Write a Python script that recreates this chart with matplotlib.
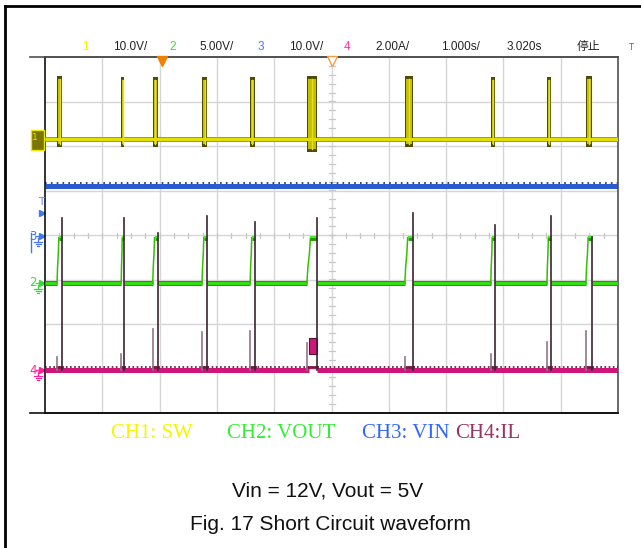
import numpy as np
import matplotlib.pyplot as plt
from matplotlib.patches import Rectangle
from matplotlib.lines import Line2D

# time axis: 1.000 s/div, 10 divisions ; vertical: 8 divisions
pulse_start = [0.21, 1.33, 1.88, 2.74, 3.58, 4.57, 6.28, 7.78, 8.76, 9.44]
pulse_end = [0.30, 1.38, 1.97, 2.83, 3.66, 4.75, 6.42, 7.85, 8.83, 9.55]

sw_base = 2.16          # CH1 baseline (div)
sw_high = [3.57, 3.55, 3.55, 3.55, 3.55, 3.57, 3.57, 3.55, 3.55, 3.57]
sw_low = [1.98, 1.98, 1.98, 1.98, 1.98, 1.87, 1.98, 1.98, 1.98, 1.98]

vin_level = 1.10        # CH3
vout_base = -1.08       # CH2
vout_high = -0.06

il_base = -3.03         # CH4
il_peak = [0.38, 0.38, 0.04, 0.43, 0.29, 0.38, 0.49, 0.22, 0.43, -0.05]
il_pre = [-2.74, -2.67, -2.11, -2.18, -2.16, -2.43, -2.74, -2.67, -2.40, -2.16]
il_block = (4.61, 4.75, -2.67, -2.31)

header = ['1', '10.0V/', '2', '5.00V/', '3', '10.0V/', '4', '2.00A/', '1.000s/', '3.020s', '停止']
header_x = [85, 130, 173, 217, 261, 306, 347, 393, 460, 524, 588]
header_col = ['#f2f200', '#222222', '#33dd33', '#222222', '#4477ff', '#222222',
              '#ff3399', '#222222', '#222222', '#222222', '#222222']

legend = ['CH1: SW', 'CH2: VOUT', 'CH3: VIN', 'CH4:IL']
legend_x = [152, 281, 406, 488]
legend_col = ['#f5f500', '#33ee33', '#3366ff', '#993366']

W, H = 641, 548
fig = plt.figure(figsize=(W / 100, H / 100), dpi=100)
ax = fig.add_axes([45 / W, 1 - 413 / H, (618 - 45) / W, (413 - 57) / H])
ax.set_xlim(0, 10)
ax.set_ylim(-4, 4)
ax.set_xticks([])
ax.set_yticks([])
PX = 10 / 573.0
PY = 8 / 356.0

for s in ['top', 'right']:
    ax.spines[s].set_color('#505050')
for s in ['left', 'bottom']:
    ax.spines[s].set_color('#111111')
for s in ax.spines.values():
    s.set_linewidth(1.2)

# extended top / bottom frame lines
for yy, c in [(1, '#505050'), (0, '#111111')]:
    ax.plot([-15 * PX / 10, 1], [yy, yy], transform=ax.transAxes, color=c, lw=1.2, clip_on=False)

# graticule
for gx in range(1, 10):
    ax.axvline(gx, color='#d6d6d6', lw=1, zorder=0)
for gy in range(-3, 4):
    ax.axhline(gy, color='#d6d6d6', lw=1, zorder=0)
for tx in np.arange(0.25, 10, 0.25):
    ax.plot([tx, tx], [-2.5 * PY, 2.5 * PY], color='#c8c8c8', lw=0.9, zorder=0)
for ty in np.arange(-3.8, 4, 0.2):
    ax.plot([5 - 3 * PX, 5 + 3 * PX], [ty, ty], color='#c8c8c8', lw=0.9, zorder=0)

lw5 = 5 * 0.72

# CH3 VIN
ax.plot([0, 10], [vin_level, vin_level], color='#2a5bd0', lw=lw5, solid_capstyle='butt', zorder=2)
ax.plot([0, 10], [vin_level + 3 * PY] * 2, color='#1a2550', lw=1.2, ls=(0, (1, 2.5)), zorder=2)

# CH1 SW
ax.plot([0, 10], [sw_base, sw_base], color='#a6a200', lw=lw5, solid_capstyle='butt', zorder=3)
ax.plot([0, 10], [sw_base, sw_base], color='#e2de00', lw=2.2, solid_capstyle='butt', zorder=3)
for s, e, hi, lo in zip(pulse_start, pulse_end, sw_high, sw_low):
    ax.add_patch(Rectangle((s, lo), e - s, hi - lo, facecolor='#4f4b00', edgecolor='none', zorder=4))
    ax.add_patch(Rectangle((s + 1.2 * PX, lo + 3 * PY), e - s - 2.4 * PX, hi - lo - 6 * PY,
                           facecolor='#c4c000', edgecolor='none', zorder=4))
    ax.plot([(s + e) / 2] * 2, [lo + 3 * PY, hi - 3 * PY], color='#e4e220', lw=1, zorder=4)
    ax.plot([s, e], [sw_base, sw_base], color='#e2de00', lw=2.2, zorder=4)

# CH2 VOUT
edges = [0] + [v for p in zip(pulse_start, pulse_end) for v in p] + [10]
for a, b in zip(edges[0::2], edges[1::2]):
    ax.plot([a, b], [vout_base, vout_base], color='#1a9e00', lw=lw5, solid_capstyle='butt', zorder=3)
    ax.plot([a, b], [vout_base + 0.5 * PY] * 2, color='#33dd11', lw=2.2, solid_capstyle='butt', zorder=3)
for s, e in zip(pulse_start, pulse_end):
    m = s + 0.35 * (e - s)
    ax.plot([s, s + 0.1 * (e - s), m - 0.1 * (e - s), m], [vout_base, vout_base + 0.35,
            vout_high - 0.35, vout_high], color='#33c000', lw=1.1, zorder=3)
    ax.plot([m, e], [vout_high, vout_high], color='#1a9e00', lw=3.5, solid_capstyle='butt', zorder=3)
    ax.plot([m, e], [vout_high + 0.5 * PY] * 2, color='#44ee22', lw=1.5, solid_capstyle='butt', zorder=3)

# CH4 IL
b0, b1, blo, bhi = il_block
ax.plot([0, b0], [il_base, il_base], color='#d0157a', lw=lw5, solid_capstyle='butt', zorder=3)
ax.plot([b1, 10], [il_base, il_base], color='#d0157a', lw=lw5, solid_capstyle='butt', zorder=3)
ax.plot([0, b0], [il_base + 2.5 * PY] * 2, color='#4a1830', lw=1.2, ls=(0, (1, 1.5)), zorder=3)
ax.plot([b1, 10], [il_base + 2.5 * PY] * 2, color='#4a1830', lw=1.2, ls=(0, (1, 1.5)), zorder=3)
ax.add_patch(Rectangle((b0, blo), b1 - b0, bhi - blo, facecolor='#d0157a', edgecolor='#5a0d35', lw=0.8, zorder=3))
for s, e, pk, pre in zip(pulse_start, pulse_end, il_peak, il_pre):
    ax.plot([s, e], [il_base + 3 * PY] * 2, color='#7a1848', lw=2, zorder=3)
    ax.plot([s, s], [il_base, pre], color='#8f7585', lw=1.2, zorder=5)
    ax.plot([e, e], [il_base, pk], color='#3b2430', lw=1.2, zorder=5)

# trigger markers
ax.plot([2.04], [4 - 3.5 * PY], marker='v', ms=7, color='#f08000', mec='#f08000', clip_on=False, zorder=6)
ax.plot([5.0], [4 - 3.5 * PY], marker='v', ms=7, color='white', mec='#f0a040', mew=1, clip_on=False, zorder=6)


def ground(xp, yp, col):
    x0 = (xp - 45) * PX
    y0 = (235 - yp) * PY
    ax.plot([x0, x0], [y0, y0 - 4 * PY], color=col, lw=0.9, clip_on=False)
    for i, w in enumerate([4, 2.5, 1]):
        yy = y0 - (4 + 2 * i) * PY
        ax.plot([x0 - w * PX, x0 + w * PX], [yy, yy], color=col, lw=0.9, clip_on=False)


def chan_mark(label, yp, col):
    ax.text((33 - 45) * PX, (235 - yp) * PY, label, color=col, fontsize=8.5, ha='center', va='center')
    ax.plot([(42 - 45) * PX], [(235 - yp) * PY], marker='>', ms=5, color=col, clip_on=False)
    ax.plot([(36 - 45) * PX, (41 - 45) * PX], [(235 - yp) * PY] * 2, color=col, lw=0.9, clip_on=False)
    ground(38, yp + 2, col)


chan_mark('3', 236, '#4477ee')
ax.plot([(31 - 45) * PX] * 2, [(235 - 233) * PY, (235 - 252) * PY], color='#4477ee', lw=1, clip_on=False)
chan_mark('2', 283, '#33dd33')
chan_mark('4', 370, '#ff2299')
ax.text((41 - 45) * PX, (235 - 202) * PY, 'T', color='#5588ee', fontsize=7.5, ha='center', va='center')
ax.plot([(42 - 45) * PX], [(235 - 213) * PY], marker='>', ms=5, color='#4477ee', clip_on=False)

ax.add_patch(Rectangle(((31 - 45) * PX, (235 - 150) * PY), 13 * PX, 20 * PY, facecolor='#7a7400',
                       edgecolor='#e8e800', lw=1, clip_on=False, zorder=6))
ax.text((35 - 45) * PX, (235 - 138) * PY, '1', color='#e8e800', fontsize=6.5, ha='center', va='center', zorder=7)
ground(39, 139, '#e8e800')

# header
for t, xp, c in zip(header, header_x, header_col):
    fig.text(xp / W, 1 - 47 / H, t, color=c, fontsize=8.5, ha='center', va='center',
             family=['Liberation Sans', 'Noto Sans CJK SC', 'DejaVu Sans'])
fig.text(631 / W, 1 - 47 / H, 'T', color='#3366ff', fontsize=6, ha='center', va='center')

# channel legend
for t, xp, c in zip(legend, legend_x, legend_col):
    fig.text(xp / W, 1 - 434 / H, t, color=c, fontsize=15, ha='center', va='center', family='Liberation Serif')

fig.text(328 / W, 1 - 491 / H, 'Vin = 12V, Vout = 5V', fontsize=15, ha='center', va='center',
         family='Liberation Sans', color='#111111')
fig.text(330 / W, 1 - 525 / H, 'Fig. 17 Short Circuit waveform', fontsize=15, ha='center', va='center',
         family='Liberation Sans', color='#111111')

# outer frame
fig.add_artist(Line2D([5 / W, 5 / W], [0, 1 - 6 / H], color='black', lw=2, transform=fig.transFigure))
fig.add_artist(Line2D([5 / W, 1], [1 - 6 / H, 1 - 6 / H], color='black', lw=2, transform=fig.transFigure))

fig.savefig('out.png', dpi=100)
